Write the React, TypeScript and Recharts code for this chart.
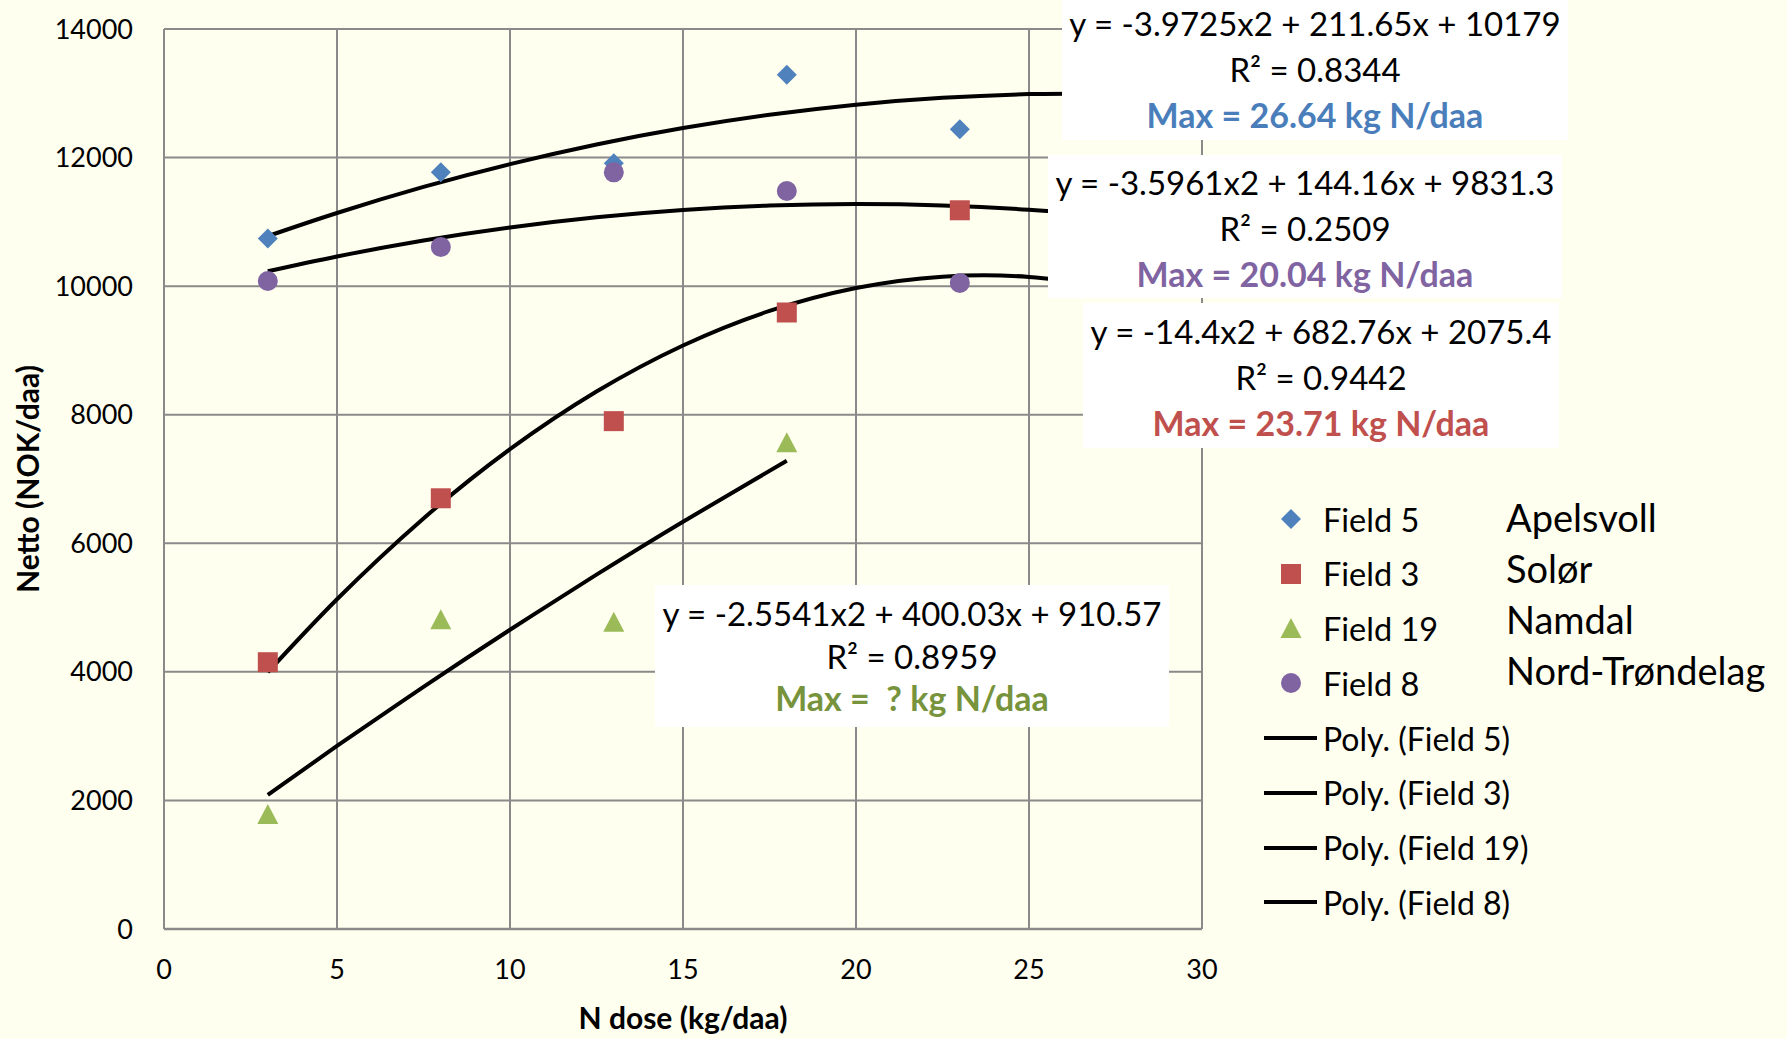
import React from 'react';
import { ComposedChart, Scatter, Line, XAxis, YAxis, CartesianGrid } from 'recharts';

// measured doses (kg N/daa)
const doses = [3, 8, 13, 18, 23];
const doses19 = [3, 8, 13, 18];

// netto values (NOK/daa)
const field5 = [10740, 11770, 11910, 13290, 12440];
const field3 = [4150, 6700, 7900, 9590, 11180];
const field19 = [1790, 4820, 4780, 7570];
const field8 = [10080, 10610, 11770, 11480, 10050];

// points along the drawn polynomial trend lines
const trendX = [3, 5, 7.5, 10, 12.5, 15, 17.5, 20, 22.5, 25, 27];
const trend5 = [10778, 11138, 11543, 11898, 12204, 12460, 12666, 12823, 12930, 12987, 12998];
const trend8 = [10231, 10462, 10710, 10913, 11071, 11185, 11253, 11276, 11254, 11188, 11102];
const trend3 = [3994, 5129, 6386, 7463, 8360, 9077, 9614, 9971, 10148, 10144, 10012];
const trendX19 = [3, 5, 7.5, 10, 12.5, 15, 18];
const trend19 = [2088, 2847, 3767, 4655, 5512, 6336, 7284];

const xTicks = [0, 5, 10, 15, 20, 25, 30];
const yTicks = [0, 2000, 4000, 6000, 8000, 10000, 12000, 14000];

const legendNames = ['Field 5', 'Field 3', 'Field 19', 'Field 8'];
const regions = ['Apelsvoll', 'Solør', 'Namdal', 'Nord-Trøndelag'];

const equations = [
  { eq: 'y = -3.9725x2 + 211.65x + 10179', r2: 'R² = 0.8344', max: 'Max = 26.64 kg N/daa', color: '#4A7EBB' },
  { eq: 'y = -3.5961x2 + 144.16x + 9831.3', r2: 'R² = 0.2509', max: 'Max = 20.04 kg N/daa', color: '#8064A2' },
  { eq: 'y = -14.4x2 + 682.76x + 2075.4', r2: 'R² = 0.9442', max: 'Max = 23.71 kg N/daa', color: '#C0504D' },
  { eq: 'y = -2.5541x2 + 400.03x + 910.57', r2: 'R² = 0.8959', max: 'Max =  ? kg N/daa', color: '#77933C' },
];

const BLUE = '#4F81BD';
const RED = '#C0504D';
const GREEN = '#9BBB59';
const PURPLE = '#8064A2';
const FONT = 'Lato, "Open Sans", sans-serif';

const toPoints = (xs: number[], ys: number[]) => xs.map((x, i) => ({ x, y: ys[i] }));

const Diamond = (p: any) => (
  <polygon points={`${p.cx},${p.cy - 10} ${p.cx + 10},${p.cy} ${p.cx},${p.cy + 10} ${p.cx - 10},${p.cy}`} fill={BLUE} />
);
const Square = (p: any) => <rect x={p.cx - 10} y={p.cy - 10} width={20} height={20} fill={RED} />;
const Triangle = (p: any) => (
  <polygon points={`${p.cx},${p.cy - 10} ${p.cx + 10.5},${p.cy + 10} ${p.cx - 10.5},${p.cy + 10}`} fill={GREEN} />
);
const Dot = (p: any) => <circle cx={p.cx} cy={p.cy} r={10} fill={PURPLE} />;

const markerIcons = [
  <svg width={22} height={22}><polygon points="11,1 21,11 11,21 1,11" fill={BLUE} /></svg>,
  <svg width={22} height={22}><rect x={1} y={1} width={20} height={20} fill={RED} /></svg>,
  <svg width={22} height={22}><polygon points="11,1 21.5,21 0.5,21" fill={GREEN} /></svg>,
  <svg width={22} height={22}><circle cx={11} cy={11} r={10} fill={PURPLE} /></svg>,
];

const boxes = [
  { left: 1062, top: 0, width: 506, height: 140, pad: 0, lh: 46 },
  { left: 1048, top: 155, width: 514, height: 143, pad: 5, lh: 45.5 },
  { left: 1083, top: 303, width: 476, height: 145, pad: 6, lh: 45.5 },
  { left: 655, top: 585, width: 514, height: 142, pad: 7, lh: 42.5 },
];

const titleStyle = { fontSize: 30, fontWeight: 700, fill: '#000', fontFamily: FONT };

export default function App() {
  return (
    <div style={{ position: 'absolute', left: 0, top: 0, width: 1787, height: 1039, background: '#FFFFF0', fontFamily: FONT, overflow: 'hidden' }}>
      <ComposedChart width={1787} height={1039} margin={{ top: 29, right: 585, bottom: 0, left: 0 }}>
        <CartesianGrid stroke="#8A8A8A" strokeWidth={2} horizontalValues={yTicks} verticalValues={xTicks} />
        <XAxis
          type="number"
          dataKey="x"
          domain={[0, 30]}
          ticks={xTicks}
          height={110}
          axisLine={{ stroke: '#8A8A8A', strokeWidth: 2.5 }}
          tickLine={false}
          tickMargin={25}
          tick={{ fontSize: 27, fill: '#000', fontFamily: FONT }}
          label={{ value: 'N dose (kg/daa)', position: 'insideBottom', offset: 10, style: titleStyle }}
        />
        <YAxis
          type="number"
          dataKey="y"
          domain={[0, 14000]}
          ticks={yTicks}
          width={164}
          axisLine={{ stroke: '#8A8A8A', strokeWidth: 2 }}
          tickLine={false}
          tickMargin={25}
          tick={{ fontSize: 27, fill: '#000', fontFamily: FONT }}
          label={{ value: 'Netto (NOK/daa)', angle: -90, position: 'center', dx: -54, style: titleStyle }}
        />
        <Scatter name="Field 5" data={toPoints(doses, field5)} shape={Diamond} isAnimationActive={false} />
        <Scatter name="Field 3" data={toPoints(doses, field3)} shape={Square} isAnimationActive={false} />
        <Scatter name="Field 19" data={toPoints(doses19, field19)} shape={Triangle} isAnimationActive={false} />
        <Scatter name="Field 8" data={toPoints(doses, field8)} shape={Dot} isAnimationActive={false} />
        <Line name="Poly. (Field 5)" data={toPoints(trendX, trend5)} dataKey="y" type="natural" stroke="#000" strokeWidth={4} dot={false} activeDot={false} isAnimationActive={false} />
        <Line name="Poly. (Field 3)" data={toPoints(trendX, trend3)} dataKey="y" type="natural" stroke="#000" strokeWidth={4} dot={false} activeDot={false} isAnimationActive={false} />
        <Line name="Poly. (Field 19)" data={toPoints(trendX19, trend19)} dataKey="y" type="natural" stroke="#000" strokeWidth={4} dot={false} activeDot={false} isAnimationActive={false} />
        <Line name="Poly. (Field 8)" data={toPoints(trendX, trend8)} dataKey="y" type="natural" stroke="#000" strokeWidth={4} dot={false} activeDot={false} isAnimationActive={false} />
      </ComposedChart>

      {/* trendline labels */}
      {equations.map((e, i) => {
        const b = boxes[i];
        return (
          <div key={i} style={{ position: 'absolute', left: b.left, top: b.top, width: b.width, height: b.height, background: '#fff', textAlign: 'center', fontSize: 33, lineHeight: `${b.lh}px`, paddingTop: b.pad, boxSizing: 'border-box', color: '#000', whiteSpace: 'pre' }}>
            <div>{e.eq}</div>
            <div>{e.r2}</div>
            <div style={{ color: e.color, fontWeight: 700, fontSize: 34 }}>{e.max}</div>
          </div>
        );
      })}

      {/* legend */}
      {legendNames.map((n, i) => (
        <div key={n} style={{ position: 'absolute', left: 1280, top: 519 + i * 54.7 - 20, height: 40, display: 'flex', alignItems: 'center', fontSize: 32.5, whiteSpace: 'nowrap' }}>
          <div style={{ width: 43, display: 'flex' }}>{markerIcons[i]}</div>
          <span>{n}</span>
        </div>
      ))}
      {legendNames.map((n, i) => (
        <div key={'p' + n} style={{ position: 'absolute', left: 1264, top: 738 + i * 54.8 - 20, height: 40, display: 'flex', alignItems: 'center', fontSize: 32, whiteSpace: 'nowrap' }}>
          <div style={{ width: 53, height: 4, background: '#000', marginRight: 6 }} />
          <span>{`Poly. (${n})`}</span>
        </div>
      ))}
      {regions.map((r, i) => (
        <div key={r} style={{ position: 'absolute', left: 1506, top: 517 + i * 51 - 23, height: 46, lineHeight: '46px', fontSize: 38, whiteSpace: 'nowrap' }}>
          {r}
        </div>
      ))}
    </div>
  );
}
